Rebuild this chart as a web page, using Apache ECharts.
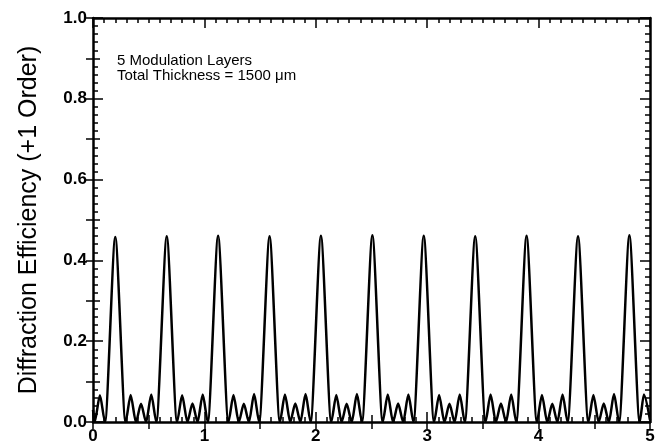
<!DOCTYPE html>
<html>
<head>
<meta charset="utf-8">
<script src="https://cdn.jsdelivr.net/npm/echarts@6/dist/echarts.min.js"></script>
<style>
  html, body { margin: 0; padding: 0; background: #fff; }
  #chart { width: 664px; height: 446px; }
</style>
</head>
<body>
<div id="chart"></div>
<script>
// x positions of the curve's vertices (zeros and lobe tops)
const waveX = [
  0, 0.015, 0.062, 0.108,
  0.200, 0.292, 0.338, 0.385, 0.431, 0.477, 0.523, 0.569,
  0.662, 0.754, 0.800, 0.847, 0.893, 0.939, 0.985, 1.031,
  1.123, 1.215, 1.261, 1.308, 1.354, 1.400, 1.446, 1.492,
  1.585, 1.677, 1.723, 1.770, 1.816, 1.862, 1.908, 1.954,
  2.046, 2.138, 2.184, 2.231, 2.277, 2.323, 2.369, 2.415,
  2.508, 2.600, 2.646, 2.693, 2.739, 2.785, 2.831, 2.877,
  2.969, 3.061, 3.107, 3.154, 3.200, 3.246, 3.292, 3.338,
  3.431, 3.523, 3.569, 3.616, 3.662, 3.708, 3.754, 3.800,
  3.892, 3.984, 4.030, 4.077, 4.123, 4.169, 4.215, 4.261,
  4.354, 4.446, 4.492, 4.539, 4.585, 4.631, 4.677, 4.723,
  4.815, 4.907, 4.945, 5.000
];
const waveY = [
  0.030, 0, 0.066, 0,
  0.458, 0, 0.067, 0, 0.045, 0, 0.068, 0,
  0.460, 0, 0.066, 0, 0.046, 0, 0.068, 0,
  0.461, 0, 0.067, 0, 0.045, 0, 0.069, 0,
  0.460, 0, 0.068, 0, 0.046, 0, 0.069, 0,
  0.461, 0, 0.067, 0, 0.045, 0, 0.069, 0,
  0.462, 0, 0.068, 0, 0.046, 0, 0.068, 0,
  0.461, 0, 0.067, 0, 0.045, 0, 0.068, 0,
  0.460, 0, 0.068, 0, 0.046, 0, 0.068, 0,
  0.461, 0, 0.067, 0, 0.045, 0, 0.068, 0,
  0.460, 0, 0.067, 0, 0.046, 0, 0.069, 0,
  0.462, 0, 0.068, 0.005
];
const yTicks = [0, 0.2, 0.4, 0.6, 0.8, 1.0];
const noteLines = ['5 Modulation Layers', 'Total Thickness = 1500 \u03bcm'];

const chart = echarts.init(document.getElementById('chart'));
const font = 'Liberation Sans, Arial, Helvetica, sans-serif';

const baseTick = {inside: true, length: 10, lineStyle: {color: '#000', width: 1.5}};
const baseMinor = {show: true, splitNumber: 10, length: 5, lineStyle: {color: '#000', width: 1.5}};
const baseLine = {show: true, onZero: false, lineStyle: {color: '#000', width: 2.5}};
const midTick = {inside: true, length: 7, lineStyle: {color: '#000', width: 1.5}};

const xAxisCommon = {
  type: 'value', min: 0, max: 5, interval: 1,
  axisLine: baseLine, axisTick: baseTick, minorTick: baseMinor,
  splitLine: {show: false}
};
const yAxisCommon = {
  type: 'value', min: yTicks[0], max: yTicks[yTicks.length - 1], interval: 0.2,
  axisLine: baseLine, axisTick: baseTick, minorTick: baseMinor,
  splitLine: {show: false}
};
// extra tick-only axes for the half-way ticks
const xMid = {
  type: 'value', min: 0, max: 5, interval: 0.5,
  axisLine: {show: false}, axisTick: midTick, axisLabel: {show: false},
  splitLine: {show: false}
};
const yMid = {
  type: 'value', min: 0, max: 1, interval: 0.1,
  axisLine: {show: false}, axisTick: midTick, axisLabel: {show: false},
  splitLine: {show: false}
};
const labelStyle = {color: '#000', fontSize: 17, fontWeight: 'bold', fontFamily: font};

const option = {
  animation: false,
  backgroundColor: '#fff',
  grid: {left: 93, right: 14, top: 18, bottom: 24, containLabel: false},
  xAxis: [
    Object.assign({}, xAxisCommon, {
      position: 'bottom',
      axisLabel: Object.assign({margin: 6}, labelStyle)
    }),
    Object.assign({}, xAxisCommon, {position: 'top', axisLabel: {show: false}}),
    Object.assign({}, xMid, {position: 'bottom'}),
    Object.assign({}, xMid, {position: 'top'})
  ],
  yAxis: [
    Object.assign({}, yAxisCommon, {
      position: 'left',
      name: 'Diffraction Efficiency (+1 Order)',
      nameLocation: 'middle',
      nameGap: 51,
      nameTextStyle: {color: '#000', fontSize: 25, fontFamily: font},
      axisLabel: Object.assign({margin: 6, formatter: (v) => v.toFixed(1)}, labelStyle)
    }),
    Object.assign({}, yAxisCommon, {position: 'right', axisLabel: {show: false}}),
    Object.assign({}, yMid, {position: 'left'}),
    Object.assign({}, yMid, {position: 'right'})
  ],
  graphic: [{
    type: 'text',
    left: 117,
    top: 53,
    style: {
      text: noteLines.join('\n'),
      fill: '#000',
      font: '15px ' + font,
      lineHeight: 15
    }
  }],
  series: [{
    type: 'line',
    xAxisIndex: 0,
    yAxisIndex: 0,
    data: waveX.map((x, i) => [x, waveY[i]]),
    showSymbol: false,
    symbol: 'none',
    smooth: 0.25,
    smoothMonotone: 'x',
    lineStyle: {color: '#000', width: 2.5},
    clip: true
  }]
};
chart.setOption(option);
</script>
</body>
</html>
